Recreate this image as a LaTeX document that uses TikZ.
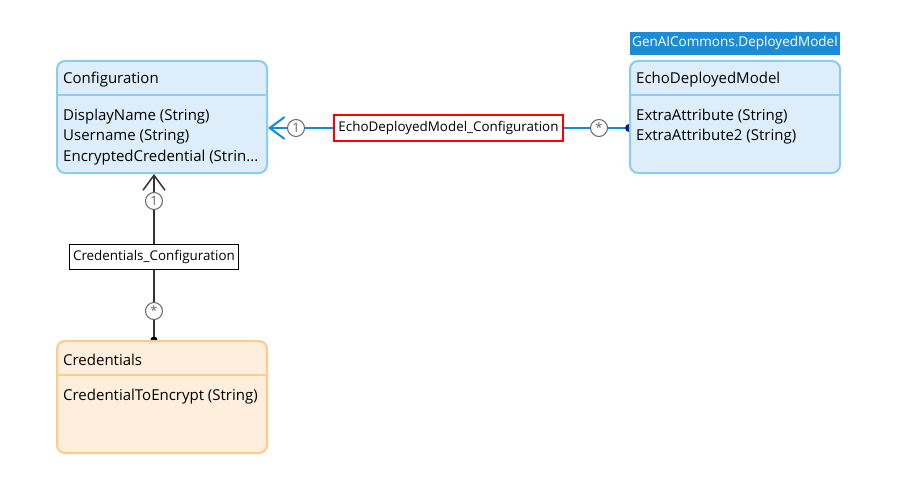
\documentclass[tikz,border=0pt]{standalone}
\usepackage{fontspec}
\setmainfont{Open Sans}
\usetikzlibrary{arrows.meta,calc}
\definecolor{entfill}{HTML}{DDEEFA}
\definecolor{entline}{HTML}{8ACDF0}
\definecolor{credfill}{HTML}{FFEEDC}
\definecolor{credline}{HTML}{FFCB88}
\definecolor{assocblue}{HTML}{0E8DE0}
\definecolor{tagblue}{HTML}{1B8CD8}
\definecolor{multgray}{HTML}{666666}
\definecolor{dotblue}{HTML}{0A1E8C}
\begin{document}
\begin{tikzpicture}[x=1pt,y=-1pt]
\tikzstyle{entity}=[rectangle,rounded corners=8pt,line width=2pt,minimum width=210pt,minimum height=112pt,inner sep=0pt]
\tikzstyle{title}=[anchor=west,inner sep=0pt,font=\fontsize{15}{20}\selectfont]
\tikzstyle{attrs}=[anchor=north west,inner sep=0pt,align=left,font=\fontsize{15}{20.5}\selectfont]
\tikzstyle{assoc}=[draw,fill=white,line width=1pt,inner xsep=4pt,inner ysep=6pt,font=\fontsize{13.4}{14}\selectfont]
\tikzstyle{mult}=[circle,draw=multgray,fill=white,line width=1pt,text=multgray,inner sep=0pt,minimum size=17pt,font=\fontsize{13}{13}\selectfont]
\useasboundingbox (0,0) rectangle (905,492);
% boxes (placed first, drawn later)
\path (162,117) node[entity] (cfg) {};
\path (735,117) node[entity] (echo) {};
\path (162,397) node[entity] (cred) {};
\coordinate (cfgport) at ([yshift=-11pt]cfg.east);
\coordinate (echoport) at ([yshift=-11pt]echo.west);
\coordinate (cfgfoot) at ([xshift=-8pt]cfg.south);
\coordinate (credport) at ([xshift=-8pt]cred.north);
% associations
\draw[assocblue,line width=2.5pt,-{Straight Barb[length=15pt,width=22pt,line width=2pt]}] (echoport) -- (cfgport);
\fill[dotblue] (echoport) circle (4pt);
\draw[black!80,line width=1.5pt,-{Straight Barb[length=15pt,width=22pt,line width=1.5pt]}] (credport) -- (cfgfoot);
\fill[black] (credport) circle (3.5pt);
\node[assoc,draw=red,line width=2pt] (a1) at ($(cfgport)!0.5!(echoport)$) {EchoDeployedModel\_Configuration};
\node[mult] (m1) at ([xshift=28pt]cfgport) {1};
\node[mult] (m2) at ([xshift=-30pt]echoport) {\raisebox{-3pt}{*}};
\node[assoc] (a2) at ($(cfgfoot)!0.5!(credport)$) {Credentials\_Configuration};
\node[mult] (m3) at ([yshift=-27pt]cfgfoot) {1};
\node[mult] (m4) at ([yshift=29pt]credport) {\raisebox{-3pt}{*}};
% entities
\node[entity,draw=entline,fill=entfill] at (cfg) {};
\draw[entline,line width=2pt] ([yshift=-35pt]cfg.north west) -- ([yshift=-35pt]cfg.north east);
\node[title] at ([xshift=7pt,yshift=-20pt]cfg.north west) {Configuration};
\node[attrs] at ([xshift=7pt,yshift=-48.5pt]cfg.north west) {DisplayName (String)\\Username (String)\\EncryptedCredential (Strin...};
\node[entity,draw=entline,fill=entfill] at (echo) {};
\draw[entline,line width=2pt] ([yshift=-35pt]echo.north west) -- ([yshift=-35pt]echo.north east);
\node[title] at ([xshift=7pt,yshift=-20pt]echo.north west) {EchoDeployedModel};
\node[attrs] at ([xshift=7pt,yshift=-48.5pt]echo.north west) {ExtraAttribute (String)\\ExtraAttribute2 (String)};
\node[fill=tagblue,text=white,anchor=south west,minimum width=206pt,minimum height=23pt,inner xsep=2pt,font=\fontsize{13.5}{14}\selectfont] (tag) at ([xshift=1pt,yshift=5pt]echo.north west) {GenAICommons.DeployedModel};
\node[entity,draw=credline,fill=credfill] at (cred) {};
\draw[credline,line width=2pt] ([yshift=-35pt]cred.north west) -- ([yshift=-35pt]cred.north east);
\node[title] at ([xshift=7pt,yshift=-20pt]cred.north west) {Credentials};
\node[attrs] at ([xshift=7pt,yshift=-48.5pt]cred.north west) {CredentialToEncrypt (String)};
\end{tikzpicture}
\end{document}
